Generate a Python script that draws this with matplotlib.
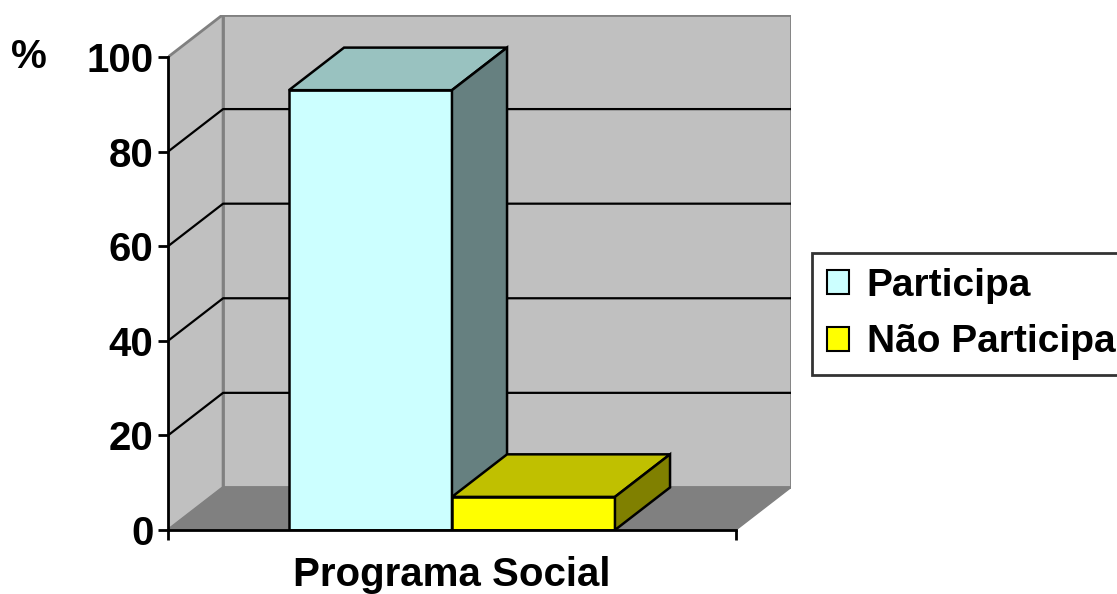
import matplotlib
matplotlib.use('Agg')
import matplotlib.pyplot as plt
from matplotlib.patches import Polygon, Patch

plt.rcParams['font.family'] = ['Liberation Sans', 'DejaVu Sans']
plt.rcParams['font.weight'] = 'bold'

# data
series = ['Participa', 'Não Participa']
values = [93, 7]
category = 'Programa Social'
yticks = [0, 20, 40, 60, 80, 100]

face_colors = ['#CCFFFF', '#FFFF00']
top_colors = ['#99C2C0', '#C0C000']
side_colors = ['#668080', '#808000']

# pseudo-3d depth offset in data units
dx, dy = 0.097, 9.0
bar_w = 0.287

fig = plt.figure(figsize=(11.17, 5.94), dpi=100)
ax = fig.add_axes([168 / 1117, 1 - 530 / 594, 623 / 1117, 515.5 / 594])
ax.set_xlim(0, 1 + dx)
ax.set_ylim(0, 100 + dy)
ax.patch.set_visible(False)

wall = '#C0C0C0'
wall_edge = '#808080'
# left wall, back wall, floor
ax.add_patch(Polygon([(0, 0), (0, 100), (dx, 100 + dy), (dx, dy)],
                     closed=True, fc=wall, ec=wall_edge, lw=2, zorder=1))
ax.add_patch(Polygon([(dx, dy), (dx, 100 + dy), (1 + dx, 100 + dy), (1 + dx, dy)],
                     closed=True, fc=wall, ec=wall_edge, lw=2, zorder=1))
ax.add_patch(Polygon([(0, 0), (dx, dy), (1 + dx, dy), (1, 0)],
                     closed=True, fc='#808080', ec='#808080', lw=1, zorder=1))

# gridlines on the walls
for v in yticks[1:-1]:
    ax.plot([0, dx, 1 + dx], [v, v + dy, v + dy], color='black', lw=1.6, zorder=2)

# bars: front face via ax.bar, top and side faces as polygons
lefts = [0.5 - bar_w, 0.5]
for i, (x0, v) in enumerate(zip(lefts, values)):
    ax.bar(x0, v, width=bar_w, align='edge', color=face_colors[i],
           edgecolor='black', lw=1.8, zorder=3 + i)
    top = [(x0, v), (x0 + dx, v + dy), (x0 + bar_w + dx, v + dy), (x0 + bar_w, v)]
    side = [(x0 + bar_w, 0), (x0 + bar_w, v), (x0 + bar_w + dx, v + dy), (x0 + bar_w + dx, dy)]
    ax.add_patch(Polygon(top, closed=True, fc=top_colors[i], ec='black',
                         lw=1.8, zorder=3 + i, joinstyle='miter'))
    ax.add_patch(Polygon(side, closed=True, fc=side_colors[i], ec='black',
                         lw=1.8, zorder=3 + i, joinstyle='miter'))

# axes
for s in ['top', 'right']:
    ax.spines[s].set_visible(False)
ax.spines['left'].set_bounds(0, 100)
ax.spines['bottom'].set_bounds(0, 1)
for s in ['left', 'bottom']:
    ax.spines[s].set_linewidth(2)
    ax.spines[s].set_zorder(10)

ax.set_yticks(yticks)
ax.set_yticklabels([str(t) for t in yticks])
ax.tick_params(axis='y', length=7, width=2, pad=3.5, labelsize=29)
ax.set_xticks([0, 1])
ax.set_xticklabels(['', ''])
ax.tick_params(axis='x', which='major', length=7, width=2)
ax.set_xticks([0.5], minor=True)
ax.set_xticklabels([category], minor=True)
ax.tick_params(axis='x', which='minor', length=0, pad=19, labelsize=29)

fig.text(29 / 1117, 1 - 57 / 594, '%', fontsize=29, fontweight='bold',
         ha='center', va='center')

handles = [Patch(fc=c, ec='black', lw=1.5) for c in face_colors]
leg = fig.legend(handles, series, loc='upper left',
                 bbox_to_anchor=(812 / 1117, 1 - 253 / 594),
                 prop={'size': 28, 'weight': 'bold'},
                 handlelength=0.57, handleheight=0.57, handletextpad=0.46,
                 borderpad=0.38, labelspacing=0.53, borderaxespad=0,
                 frameon=True, fancybox=False)
leg.get_frame().set_edgecolor('black')
leg.get_frame().set_linewidth(2)

fig.savefig('out.png', dpi=100)
